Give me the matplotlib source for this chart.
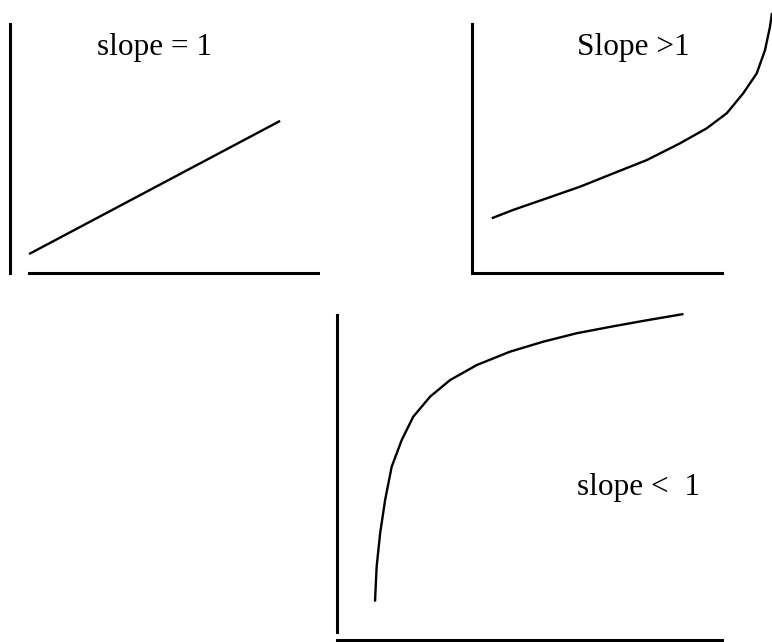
import matplotlib
matplotlib.use("Agg")
import matplotlib.pyplot as plt

W, H = 772, 642

# Panel data (units 0-100 within each panel's axes)
lin_x = [6.2, 87.7]
lin_y = [6.7, 60.7]

gt_x = [7.9, 16.5, 29.9, 43.2, 56.5, 69.9, 83.2, 93.9, 101.9, 108.5, 113.9, 117.2, 119.2, 120.0]
gt_y = [21.2, 24.6, 29.3, 34.0, 39.4, 44.8, 51.6, 57.7, 63.8, 71.9, 80.0, 89.4, 98.9, 104.5]

lt_x = [9.87, 10.3, 11.2, 12.5, 14.2, 16.8, 19.8, 24.2, 29.4, 36.3, 44.9, 53.6, 62.3, 71.2, 79.6, 90.0]
lt_y = [11.8, 22.6, 32.8, 43.1, 53.3, 61.5, 68.7, 74.9, 80.0, 84.6, 88.7, 91.8, 94.4, 96.4, 98.2, 100.3]

labels = ["slope = 1", "Slope >1", "slope <  1"]

fig = plt.figure(figsize=(W / 100, H / 100), dpi=100)

def pax(x0, x1, y_top, y_bot):
    return fig.add_axes([x0 / W, 1 - y_bot / H, (x1 - x0) / W, (y_bot - y_top) / H])

def style(ax, xb0, yb0, ylo):
    ax.set_xlim(0, 100)
    ax.set_ylim(ylo, 100)
    for s in ["top", "right"]:
        ax.spines[s].set_visible(False)
    for s in ["left", "bottom"]:
        ax.spines[s].set_linewidth(2.2)
        ax.spines[s].set_color("black")
    ax.spines["bottom"].set_bounds(xb0, 100)
    ax.spines["left"].set_bounds(yb0, 100)
    ax.set_xticks([])
    ax.set_yticks([])
    ax.patch.set_alpha(0)

font = dict(family=["Liberation Serif", "DejaVu Serif"], fontsize=22.5, color="black")
line_kw = dict(color="black", lw=1.7, clip_on=False, solid_joinstyle="round", solid_capstyle="butt")

# Panel 1
ax1 = pax(10, 318, 24, 273)
style(ax1, 6.2, -1, -1)
ax1.plot(lin_x, lin_y, **line_kw)
ax1.text(46.8, 90.5, labels[0], ha="center", va="center", **font)

# Panel 2
ax2 = pax(472, 722, 24, 273)
style(ax2, 0, -1, -1)
ax2.plot(gt_x, gt_y, **line_kw)
ax2.text(64.4, 90.5, labels[1], ha="center", va="center", **font)

# Panel 3
ax3 = pax(337, 722, 315, 640)
style(ax3, 0, 2.5, 0)
ax3.plot(lt_x, lt_y, **line_kw)
ax3.text(78.2, 47, labels[2], ha="center", va="center", **font)

fig.savefig("out.png", dpi=100, facecolor="white")
